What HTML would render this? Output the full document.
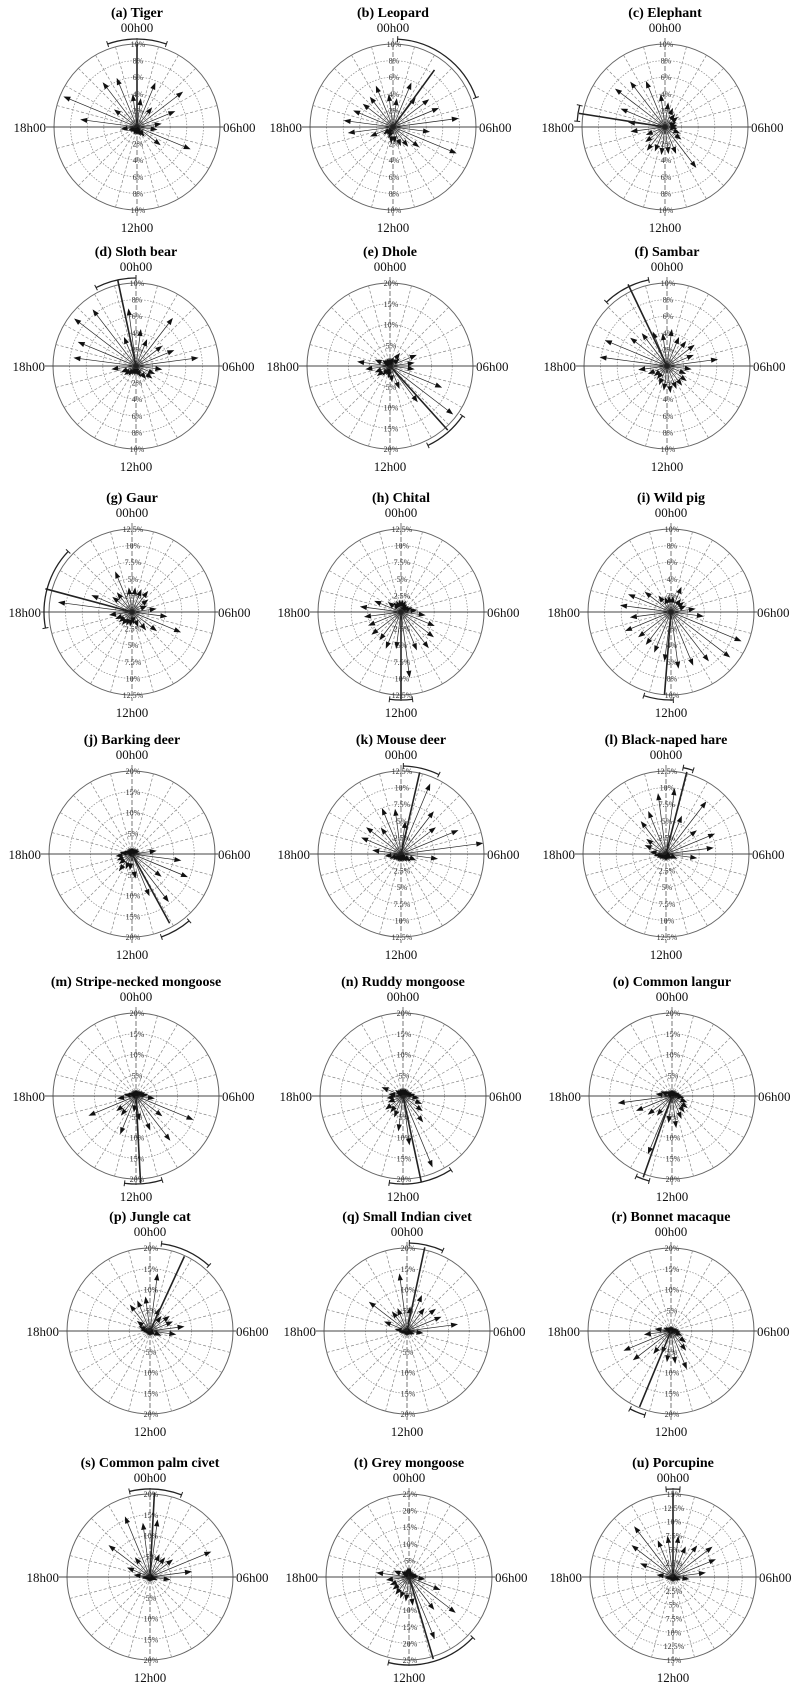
<!DOCTYPE html>
<html><head><meta charset="utf-8"><style>
html,body{margin:0;padding:0;background:#fff}
svg{display:block}
text{font-family:"Liberation Serif",serif}
</style></head><body>
<svg id="fig" width="805" height="1682" viewBox="0 0 805 1682" xmlns="http://www.w3.org/2000/svg"></svg>
<script>
const titles=["(a) Tiger","(b) Leopard","(c) Elephant","(d) Sloth bear","(e) Dhole","(f) Sambar","(g) Gaur","(h) Chital","(i) Wild pig","(j) Barking deer","(k) Mouse deer","(l) Black-naped hare","(m) Stripe-necked mongoose","(n) Ruddy mongoose","(o) Common langur","(p) Jungle cat","(q) Small Indian civet","(r) Bonnet macaque","(s) Common palm civet","(t) Grey mongoose","(u) Porcupine"];
const scaleMax=[10,10,10,10,20,10,12.5,12.5,10,20,12.5,12.5,20,20,20,20,20,20,20,25,15];
const tickStep=[2,2,2,2,5,2,2.5,2.5,2,5,2.5,2.5,5,5,5,5,5,5,5,5,2.5];
// hourly activity, relative to the outer ring (hour 0..23)
const hourlyRel=[
[0.35,0.58,0.3,0.7,0.5,0.3,0.25,0.7,0.36,0.15,0.12,0.1,0.1,0.1,0.08,0.1,0.12,0.2,0.69,0.96,0.35,0.68,0.64,0.4],
[0.35,0.58,0.45,0.55,0.6,0.8,0.45,0.83,0.4,0.3,0.25,0.2,0.2,0.15,0.12,0.15,0.3,0.55,0.6,0.52,0.46,0.46,0.54,0.4],
[0.3,0.25,0.2,0.2,0.15,0.15,0.15,0.2,0.25,0.62,0.35,0.33,0.34,0.32,0.36,0.3,0.25,0.42,0.45,0.58,0.76,0.69,0.6,0.4],
[0.45,0.35,0.73,0.4,0.5,0.76,0.32,0.25,0.25,0.2,0.15,0.12,0.12,0.12,0.15,0.18,0.2,0.3,0.76,0.76,0.94,0.86,0.38,0.7],
[0.1,0.12,0.2,0.15,0.35,0.3,0.3,0.68,0.96,0.55,0.3,0.2,0.15,0.12,0.15,0.2,0.2,0.3,0.4,0.2,0.12,0.1,0.1,0.1],
[0.45,0.38,0.38,0.42,0.35,0.62,0.3,0.25,0.3,0.3,0.3,0.33,0.3,0.25,0.2,0.2,0.25,0.35,0.82,0.81,0.56,0.5,0.45,0.4],
[0.3,0.3,0.32,0.25,0.2,0.3,0.43,0.64,0.38,0.28,0.2,0.15,0.18,0.18,0.2,0.2,0.22,0.28,0.9,0.53,0.3,0.3,0.53,0.3],
[0.15,0.15,0.12,0.12,0.15,0.2,0.3,0.44,0.5,0.55,0.5,0.8,0.45,0.48,0.43,0.45,0.43,0.45,0.5,0.35,0.2,0.15,0.15,0.15],
[0.2,0.33,0.2,0.2,0.2,0.3,0.4,0.92,0.9,0.75,0.7,0.69,0.6,0.53,0.5,0.5,0.6,0.5,0.62,0.56,0.4,0.25,0.2,0.2],
[0.08,0.08,0.08,0.1,0.1,0.3,0.6,0.73,0.45,0.73,0.55,0.3,0.2,0.2,0.26,0.2,0.2,0.2,0.15,0.1,0.08,0.08,0.08,0.08],
[0.4,0.92,0.65,0.53,0.75,1.0,0.45,0.2,0.15,0.12,0.1,0.1,0.1,0.1,0.1,0.12,0.15,0.2,0.35,0.52,0.53,0.4,0.6,0.55],
[0.8,0.5,0.8,0.47,0.64,0.58,0.38,0.15,0.1,0.08,0.08,0.08,0.08,0.08,0.08,0.1,0.12,0.15,0.2,0.28,0.3,0.5,0.56,0.74],
[0.08,0.08,0.08,0.1,0.12,0.15,0.23,0.75,0.4,0.68,0.45,0.3,0.2,0.5,0.3,0.3,0.62,0.23,0.15,0.1,0.08,0.08,0.08,0.08],
[0.1,0.1,0.1,0.1,0.12,0.15,0.2,0.25,0.3,0.4,0.93,0.6,0.43,0.28,0.25,0.27,0.2,0.2,0.18,0.28,0.12,0.1,0.1,0.1],
[0.08,0.08,0.08,0.08,0.1,0.12,0.15,0.2,0.24,0.25,0.3,0.39,0.33,0.76,0.3,0.37,0.47,0.66,0.2,0.15,0.1,0.08,0.08,0.08],
[0.7,0.3,0.23,0.3,0.3,0.42,0.32,0.15,0.08,0.06,0.06,0.06,0.06,0.06,0.06,0.06,0.06,0.08,0.12,0.15,0.2,0.4,0.4,0.42],
[0.3,0.47,0.35,0.44,0.45,0.62,0.2,0.1,0.08,0.06,0.06,0.06,0.06,0.06,0.06,0.06,0.08,0.1,0.15,0.3,0.58,0.3,0.3,0.7],
[0.06,0.06,0.06,0.06,0.08,0.1,0.12,0.15,0.23,0.3,0.5,0.4,0.38,0.3,0.35,0.58,0.62,0.33,0.2,0.1,0.08,0.06,0.06,0.06],
[0.7,0.3,0.3,0.35,0.8,0.51,0.25,0.1,0.06,0.06,0.06,0.06,0.06,0.06,0.06,0.06,0.06,0.1,0.2,0.3,0.63,0.3,0.79,0.66],
[0.12,0.08,0.08,0.08,0.1,0.12,0.2,0.41,0.71,0.5,0.81,0.35,0.3,0.28,0.27,0.25,0.25,0.28,0.4,0.2,0.12,0.1,0.1,0.12],
[0.5,0.4,0.48,0.6,0.56,0.4,0.2,0.1,0.08,0.06,0.06,0.06,0.06,0.06,0.06,0.06,0.08,0.1,0.2,0.43,0.63,0.77,0.48,0.5]];
// mean vector hour, length (relative), CI start/end hour
const meanHour=[0,2.4,18.6,23.2,9.2,22.3,19,12,12.3,10.1,0.86,0.95,11.8,11.2,13.3,1.65,0.8,13.5,0.2,10.9,0];
const meanLen=[1.0,0.85,1.05,1.06,1.04,1.09,1.08,1.05,1.0,0.95,1.01,1.02,1.05,1.06,1.04,0.99,1.03,0.99,1.02,1.03,1.02];
const ciStart=[22.7,0.2,18.25,22.2,8.3,21.1,17.3,11.5,11.9,9.3,0.1,0.75,10.85,9.8,13.0,0.5,0.1,13.15,23.1,8.9,23.7];
const ciEnd=[1.3,4.7,18.95,0,10.3,23.2,20.9,12.5,13.2,10.7,1.7,1.2,12.5,12.6,13.6,2.8,1.6,13.85,1.4,12.9,0.3];
const cxs=[137,393,665,136,390,667,132,401,671,132,401,666,136,403,672,150,407,671,150,409,673];
const cys=[127,127,127,366,366,366,612,612,612,854,854,854,1096,1096,1096,1331,1331,1331,1577,1577,1577];

const NS="http://www.w3.org/2000/svg", svg=document.getElementById('fig'), R=83;
function mk(tag,at,parent){const e=document.createElementNS(NS,tag);for(const k in at)e.setAttribute(k,at[k]);parent.appendChild(e);return e;}
function pt(cx,cy,h,r){const a=h*Math.PI/12;return [cx+r*Math.sin(a),cy-r*Math.cos(a)];}
function arcPath(cx,cy,r,h1,h2){if(h2<h1)h2+=24;const p1=pt(cx,cy,h1,r),p2=pt(cx,cy,h2,r);const large=(h2-h1)>12?1:0;return `M${p1[0]},${p1[1]} A${r},${r} 0 ${large} 1 ${p2[0]},${p2[1]}`;}

titles.forEach((t,i)=>{
  const cx=cxs[i],cy=cys[i];
  const g=mk('g',{},svg);
  
  
  const n=Math.round(scaleMax[i]/tickStep[i]);
  for(let k=1;k<=n;k++){
    const rr=R*k/n;
    const c=mk('circle',{cx,cy,r:rr,fill:'none',stroke:k===n?'#666':'#888','stroke-width':k===n?1:0.7,'stroke-dasharray':k===n?'none':'1.5 1.5'},g);
    
    
  }
  for(let h=0;h<24;h++){
    if(h%6===0)continue;
    const p=pt(cx,cy,h,R);
    const l=mk('line',{x1:cx,y1:cy,x2:p[0],y2:p[1],stroke:'#888','stroke-width':0.7,'stroke-dasharray':'3 2'},g);
    
    
  }
  const hx=mk('line',{x1:cx-R-8,y1:cy,x2:cx+R+3,y2:cy,stroke:'#444','stroke-width':1},g);
  
  
  const vx=mk('line',{x1:cx,y1:cy-R-6,x2:cx,y2:cy+R+6,stroke:'#555','stroke-width':0.8,'stroke-dasharray':'5 2'},g);
  
  
  for(let k=1;k<=n;k++){
    const v=+(tickStep[i]*k).toFixed(1);
    [-1,1].forEach(s=>{
      const tx=mk('text',{x:cx+1,y:cy+s*R*k/n+3,'font-size':8,'text-anchor':'middle',fill:'#333'},g);
      tx.textContent=v+'%';
      
      
    });
  }
  hourlyRel[i].forEach((v,h)=>{
    const ang=(h+0.5);
    const tip=pt(cx,cy,ang,R*v);
    const a=ang*Math.PI/12, ux=Math.sin(a), uy=-Math.cos(a);
    const base=[tip[0]-ux*7,tip[1]-uy*7];
    const ln=mk('line',{x1:cx,y1:cy,x2:base[0],y2:base[1],stroke:'#222','stroke-width':0.7},g);
    
    
    const hd=mk('polygon',{points:`${tip[0]},${tip[1]} ${base[0]-uy*2.6},${base[1]+ux*2.6} ${base[0]+uy*2.6},${base[1]-ux*2.6}`,fill:'#111'},g);
    
    
  });
  const mp=pt(cx,cy,meanHour[i],R*meanLen[i]);
  const mv=mk('line',{x1:cx,y1:cy,x2:mp[0],y2:mp[1],stroke:'#222','stroke-width':1.6},g);
  
  
  const ar=R+5;
  const ca=mk('path',{d:arcPath(cx,cy,ar,ciStart[i],ciEnd[i]),fill:'none',stroke:'#222','stroke-width':1.3},g);
  
  
  [ciStart[i],ciEnd[i]].forEach(h=>{
    const p1=pt(cx,cy,h,ar-3),p2=pt(cx,cy,h,ar+3);
    const e=mk('line',{x1:p1[0],y1:p1[1],x2:p2[0],y2:p2[1],stroke:'#222','stroke-width':1},g);
    
    
  });
  const labs=[['00h00',cx,cy-R-12,'middle'],['12h00',cx,cy+R+22,'middle'],['18h00',cx-R-8,cy+5,'end'],['06h00',cx+R+3,cy+5,'start']];
  labs.forEach(L=>{
    const tx=mk('text',{x:L[1],y:L[2],'font-size':13,'text-anchor':L[3],fill:'#111'},g);
    tx.textContent=L[0];
    
    
  });
  const tt=mk('text',{x:cx,y:cy-R-27,'font-size':14,'font-weight':'bold','text-anchor':'middle',fill:'#000'},g);
  tt.textContent=t;
  
  
});
</script>
</body></html>
